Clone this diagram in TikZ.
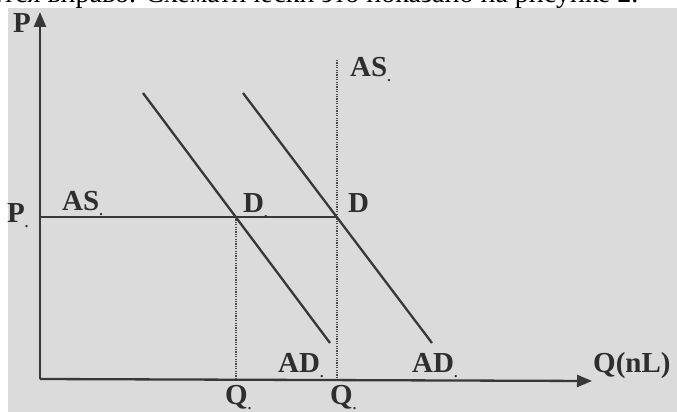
\documentclass[tikz,border=0pt]{standalone}
\usepackage{fontspec}
\setmainfont{Liberation Serif}
\usetikzlibrary{arrows.meta}
\newcommand{\sdot}{\raisebox{-5pt}{\fontsize{14}{14}\selectfont .}}
\begin{document}
\begin{tikzpicture}[x=1pt,y=-1pt,
  ink/.style={draw=black!78, line width=2.3pt},
  axis/.style={ink, -{Triangle[length=15pt,width=12pt]}},
  dotline/.style={draw=black!72, line width=1.6pt, dash pattern=on 1.2pt off 1.2pt},
  lab/.style={inner sep=0pt, text=black!82, font=\fontsize{29}{29}\selectfont\bfseries}]
\useasboundingbox (0,0) rectangle (677,412);
\fill[white] (0,0) rectangle (677,412);
\fill[black!14] (8,8) rectangle (677,412);
\node[anchor=base west, inner sep=0pt, font=\fontsize{28}{28}\selectfont] (top) at (-10,3) {ется вправо. Схематически это показано на рисунке 2.};
\fill[black!14] (8,8) rectangle (677,12);
% axes
\coordinate (O) at (40,379);
\coordinate (Ytip) at (40,12);
\coordinate (Xtip) at (592,381);
\draw[axis] (O) -- (Ytip);
\draw[axis] (O) -- (Xtip);
% curves
\coordinate (AS1a) at (40,217);
\coordinate (E2) at (337,217);
\coordinate (E1) at (236,217);
\coordinate (AS2top) at (337,60);
\coordinate (Q1) at (236,379);
\coordinate (Q2) at (337,379);
\coordinate (AD1a) at (143,93);
\coordinate (AD1b) at (330,343);
\coordinate (AD2a) at (243,93);
\coordinate (AD2b) at (432,343);
\draw[ink] (AS1a) -- (E2);
\draw[dotline] (AS2top) -- (Q2);
\draw[dotline] (E1) -- (Q1);
\draw[ink] (AD1a) -- (AD1b);
\draw[ink] (AD2a) -- (AD2b);
% labels
\node[lab, anchor=north west] (Plab) at (13,13) {P};
\node[lab, anchor=north west] (P1) at (7,203) {P\sdot};
\node[lab, anchor=north west] (AS1) at (62,191) {AS\sdot};
\node[lab, anchor=north west] (AS2) at (350,57) {AS\sdot};
\node[lab, anchor=north west] (D1) at (243,193) {D\sdot};
\node[lab, anchor=north west] (D2) at (348,193) {D};
\node[lab, anchor=north west] (AD1) at (278,353) {AD\sdot};
\node[lab, anchor=north west] (AD2) at (412,353) {AD\sdot};
\node[lab, anchor=north west] (Qa) at (225,385) {Q\sdot};
\node[lab, anchor=north west] (Qb) at (330,385) {Q\sdot};
\node[lab, anchor=north west] (QnL) at (593,352) {Q(nL)};
\end{tikzpicture}
\end{document}
